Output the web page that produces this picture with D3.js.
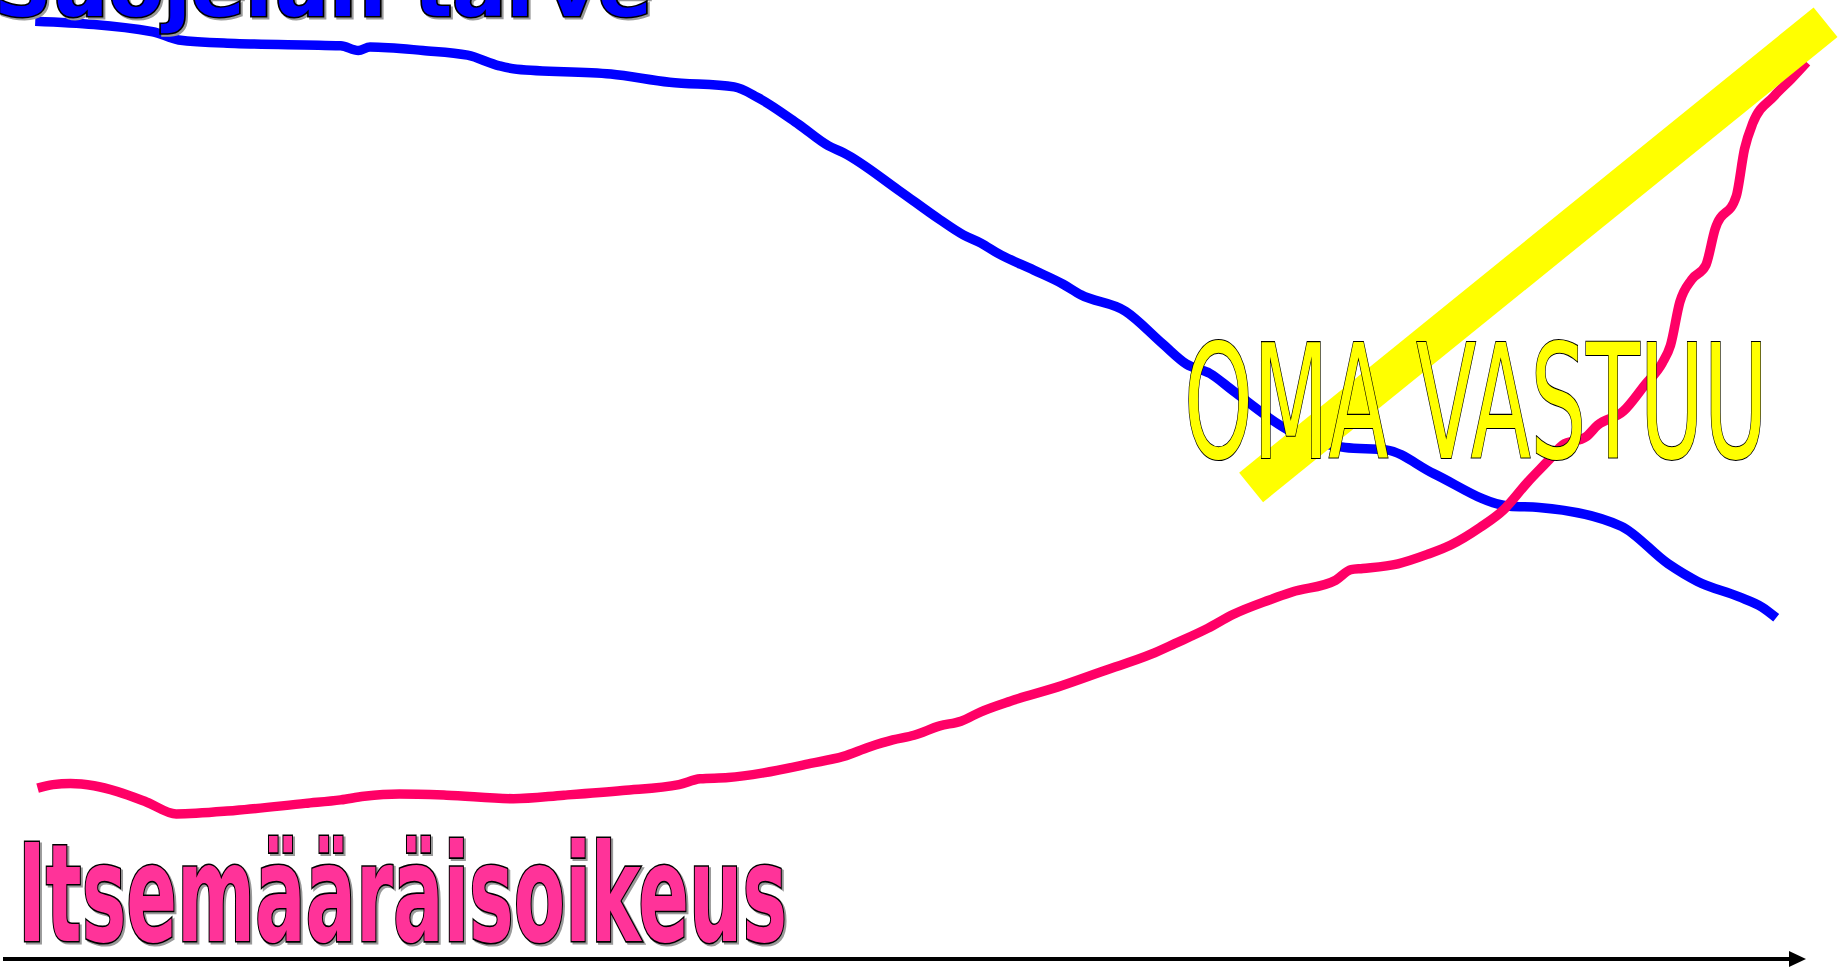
<!DOCTYPE html>
<html>
<head>
<meta charset="utf-8">
<script src="https://cdn.jsdelivr.net/npm/d3@7"></script>
<style>
  html, body { margin: 0; padding: 0; background: #fff; overflow: hidden; }
  svg { display: block; }
</style>
</head>
<body>
<div id="svg-container"></div>
<script>
// readings taken on a 1568 x 825 grid, level counted up from the bottom
const protectionNeed = [
  [30, 807], [130, 798], [152, 791], [200, 788], [290, 786], [305, 782], [315, 785],
  [360, 782], [398, 778], [425, 769], [440, 766], [520, 762], [570, 755], [625, 751],
  [645, 742], [680, 719], [705, 701], [718, 695], [765, 663], [800, 638], [820, 625],
  [835, 618], [850, 609], [880, 595], [905, 583], [920, 574], [958, 560], [990, 532],
  [1010, 515], [1030, 507], [1050, 492], [1100, 457], [1145, 444], [1180, 442],
  [1220, 422], [1285, 394], [1310, 393], [1380, 377], [1420, 345], [1445, 330],
  [1480, 317], [1500, 308], [1512, 299]
];
const selfDetermination = [
  [32, 154], [45, 157], [60, 158], [80, 156], [100, 151], [125, 142], [150, 132],
  [200, 135], [260, 141], [290, 144], [310, 147], [340, 149], [380, 148], [437, 145],
  [480, 148], [530, 152], [578, 157], [596, 162], [620, 163], [650, 167], [690, 175],
  [718, 181], [740, 189], [760, 195], [778, 199], [800, 207], [818, 211], [835, 219],
  [860, 228], [900, 240], [940, 254], [980, 268], [1000, 277], [1028, 290], [1050, 302],
  [1080, 314], [1100, 321], [1137, 331], [1150, 340], [1160, 341], [1190, 345],
  [1215, 353], [1235, 361], [1260, 376], [1280, 391], [1300, 414], [1320, 435],
  [1330, 446], [1350, 453], [1360, 463], [1382, 475], [1400, 497], [1415, 516],
  [1422, 531], [1430, 568], [1440, 587], [1452, 599], [1460, 630], [1478, 658],
  [1485, 698], [1492, 720], [1510, 743], [1525, 758], [1538, 772]
];
const ownResponsibility = [[1065, 410], [1554, 806]];
const labels = ["Suojelun tarve", "Itsemääräisoikeus", "OMA VASTUU"];

const width = 1842, height = 969;

const x = d3.scaleLinear().domain([0, 1568]).range([0, width]);
const y = d3.scaleLinear().domain([0, 825]).range([height, 0]);

const svg = d3.select("#svg-container").append("svg")
    .attr("width", width)
    .attr("height", height);

svg.append("rect")
    .attr("width", width)
    .attr("height", height)
    .attr("fill", "#fff");

const line = d3.line()
    .x(d => x(d[0]))
    .y(d => y(d[1]))
    .curve(d3.curveMonotoneX);

// the two curves
svg.append("path")
    .datum(protectionNeed)
    .attr("d", line)
    .attr("fill", "none")
    .attr("stroke", "#0000ff")
    .attr("stroke-width", 9.5)
    .attr("stroke-linejoin", "round");

svg.append("path")
    .datum(selfDetermination)
    .attr("d", line)
    .attr("fill", "none")
    .attr("stroke", "#ff0066")
    .attr("stroke-width", 9.5)
    .attr("stroke-linejoin", "round");

// yellow band goes over the lines
svg.append("path")
    .datum(ownResponsibility)
    .attr("d", d3.line().x(d => x(d[0])).y(d => y(d[1])))
    .attr("fill", "none")
    .attr("stroke", "#ffff00")
    .attr("stroke-width", 38)
    .attr("stroke-linecap", "butt");

// time arrow at the bottom
svg.append("line")
    .attr("x1", 3)
    .attr("x2", 1792)
    .attr("y1", 959)
    .attr("y2", 959)
    .attr("stroke", "#000")
    .attr("stroke-width", 4);
svg.append("path")
    .attr("d", "M1789,951 L1806,959 L1789,967 Z")
    .attr("fill", "#000");

// word art style labels
const wordArt = (txt, opts) => {
    const g = svg.append("g")
        .attr("transform", `translate(${opts.x},${opts.y}) scale(1,${opts.sy})`);
    if (opts.shadow) {
        g.append("text")
            .attr("x", 2)
            .attr("y", 2)
            .attr("font-family", opts.font)
            .attr("font-weight", opts.weight)
            .attr("font-size", opts.size)
            .attr("textLength", opts.len)
            .attr("lengthAdjust", "spacingAndGlyphs")
            .attr("fill", "#9a9a9a")
            .attr("stroke", "#9a9a9a")
            .attr("stroke-width", opts.sw)
            .text(txt);
    }
    g.append("text")
        .attr("x", 0)
        .attr("y", 0)
        .attr("font-family", opts.font)
        .attr("font-weight", opts.weight)
        .attr("font-size", opts.size)
        .attr("textLength", opts.len)
        .attr("lengthAdjust", "spacingAndGlyphs")
        .attr("fill", opts.fill)
        .attr("stroke", "#000")
        .attr("stroke-width", opts.sw)
        .attr("paint-order", "stroke")
        .text(txt);
};

wordArt(labels[0], {
    x: -6, y: 16, len: 658, size: 80, sy: 1,
    font: "'DejaVu Sans Condensed', 'DejaVu Sans'", weight: "bold",
    fill: "#0000ff", sw: 3, shadow: true
});

wordArt(labels[1], {
    x: 18, y: 941, len: 769, size: 126, sy: 1.08,
    font: "'DejaVu Sans Condensed', 'DejaVu Sans'", weight: "bold",
    fill: "#ff3399", sw: 3, shadow: true
});

wordArt(labels[2], {
    x: 1184, y: 458, len: 584, size: 158, sy: 1,
    font: "'DejaVu Sans'", weight: "normal",
    fill: "#ffff00", sw: 2.2, shadow: false
});
</script>
</body>
</html>
